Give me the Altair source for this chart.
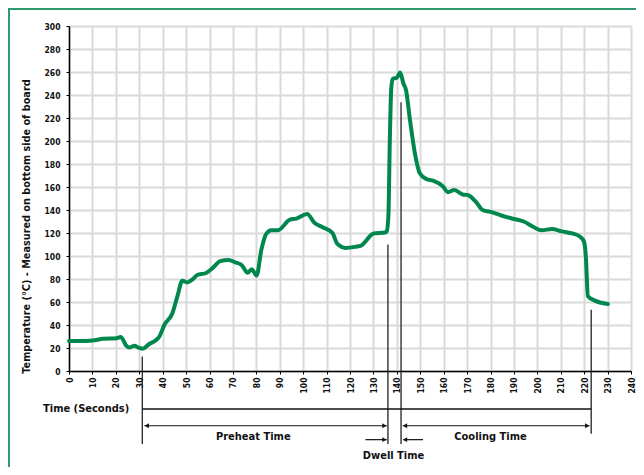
import altair as alt
import pandas as pd

# ---- data ----
time_s = [0, 5, 10, 14.6, 20.3, 22.1, 24.5, 25.9, 28, 29.4, 31.3, 34.3, 37.2, 38.6,
          40.7, 44.2, 46.3, 48.4, 50.5, 52.6, 54.8, 58.3, 61.1, 64.6, 68.1, 71,
          73.8, 76.3, 78, 80.1, 82.2, 84.3, 86.4, 89.3, 94.2, 97, 101.7, 104.8,
          108.3, 112.5, 114.6, 118.1, 123.1, 124.5, 130.1, 135, 135.7, 136.4,
          137.0, 137.6, 138.2, 140, 141.4, 142.8, 143.9, 145.6, 147.7, 149.8,
          152.6, 155.5, 159.7, 161.8, 164.6, 168.1, 170.3, 173.8, 176.6, 180.8,
          185, 190, 194.2, 198.4, 201.9, 206.2, 210.4, 215.3, 218.1, 219.9,
          220.7, 221.6, 224.4, 230.1]
temp_c = [26, 26, 26.5, 28, 28.5, 29.5, 22, 20.5, 22, 20.5, 19.4, 23.5, 27, 30,
          40, 50.5, 65, 78.5, 77, 79.5, 83.5, 85, 89, 95.5, 96.5, 94.5,
          92, 85.5, 88.5, 83, 106, 119.5, 122.5, 122.5, 131.5, 132.5, 136.5, 129,
          125, 120, 110.5, 107, 108.3, 108.8, 119.5, 120.5, 121.5, 135,
          200, 245, 254, 255, 259.5, 250, 244.5, 218.5, 189.5, 172,
          167, 165.5, 160.5, 155.5, 157.5, 153.5, 153, 147, 140, 138,
          135, 132.2, 130, 125.2, 122.3, 123.5, 121.4, 119.4, 117, 112.7,
          100, 65, 61.4, 58.2]

x_ticks = list(range(0, 241, 10))
y_ticks = list(range(0, 301, 20))

# annotation markers (in axis units)
marker_t = [31.3, 136.2, 141.8, 223]
marker_top = [12.7, 110, 233.6, 53.3]
marker_bottom = [-63.5, -63.5, -63.5, -54.5]

span_start = [31.3]
span_end = [223]
span_level = [-33]

arrow_from = [32.2, 142.5, 126.6, 142.8]
arrow_to = [135.7, 222.3, 135.7, 151.2]
arrow_level = [-47.6, -47.6, -59.7, -59.7]

head_t = [33.2, 134.7, 143.5, 221.3, 134.7, 143.5]
head_level = [-47.6, -47.6, -47.6, -47.6, -59.7, -59.7]
head_shape = ["triangle-left", "triangle-right", "triangle-left", "triangle-right",
              "triangle-right", "triangle-left"]

label_text = ["Time (Seconds)", "Preheat Time", "Cooling Time", "Dwell Time"]
label_t = [7.3, 78.7, 180, 138.6]
label_level = [-33, -57.4, -57.4, -74.3]

FONT = "DejaVu Sans Condensed, Liberation Sans Narrow, Liberation Sans, sans-serif"
GREEN = "#00874e"

curve = pd.DataFrame({"t": time_s, "T": temp_c})
markers = pd.DataFrame({"t": marker_t, "top": marker_top, "bottom": marker_bottom})
span = pd.DataFrame({"t": span_start, "b": span_end, "T": span_level})
arrows = pd.DataFrame({"t": arrow_from, "b": arrow_to, "T": arrow_level})
heads = pd.DataFrame({"t": head_t, "T": head_level, "shape": head_shape})
labels = pd.DataFrame({"text": label_text, "t": label_t, "T": label_level})

x_scale = alt.Scale(domain=[0, 240], nice=False)
y_scale = alt.Scale(domain=[0, 300], nice=False)

x_axis = alt.Axis(values=x_ticks, title=None, labelAngle=270, labelFont=FONT,
                  labelFontSize=8.5, labelFontWeight="bold", labelColor="#111",
                  labelOverlap=False, labelBound=False, labelFlush=False,
                  labelPadding=3, tickSize=3, tickColor="#000", domainColor="#000",
                  domainWidth=1.5, grid=True, gridColor="#dadada", gridWidth=2)
y_axis = alt.Axis(values=y_ticks, title="Temperature (°C) - Measured on bottom side of board",
                  titleFont=FONT, titleFontSize=10.8, titleFontWeight="bold", titleColor="#111",
                  titleAngle=270, titleX=-43, titleY=200, titleAlign="center",
                  titleBaseline="middle", labelOverlap=False, labelFlush=False,
                  labelFont=FONT, labelFontSize=8.5, labelFontWeight="bold", labelColor="#111",
                  labelPadding=6, tickSize=3, tickColor="#000", domainColor="#000",
                  domainWidth=1.5, grid=True, gridColor="#dadada", gridWidth=2)


def X(field):
    return alt.X(field, scale=x_scale, axis=x_axis)


def Y(field):
    return alt.Y(field, scale=y_scale, axis=y_axis)


line = alt.Chart(curve).mark_line(color=GREEN, strokeWidth=4, interpolate="monotone",
                                  strokeJoin="round", strokeCap="round").encode(
    x=X("t:Q"), y=Y("T:Q"))

vrules = alt.Chart(markers).mark_rule(color="#222", strokeWidth=1.3).encode(
    x=X("t:Q"), y=Y("top:Q"), y2="bottom:Q")

hrule = alt.Chart(span).mark_rule(color="#111", strokeWidth=1.5).encode(
    x=X("t:Q"), x2="b:Q", y=Y("T:Q"))

arrow_lines = alt.Chart(arrows).mark_rule(color="#111", strokeWidth=1.2).encode(
    x=X("t:Q"), x2="b:Q", y=Y("T:Q"))

arrow_heads = alt.Chart(heads).mark_point(filled=True, color="#111", size=24, opacity=1).encode(
    x=X("t:Q"), y=Y("T:Q"), shape=alt.Shape("shape:N", scale=None, legend=None))

texts = alt.Chart(labels).mark_text(font=FONT, fontSize=11, fontWeight="bold",
                                    color="#111", align="center", baseline="middle").encode(
    x=X("t:Q"), y=Y("T:Q"), text="text:N")

border = alt.Chart(pd.DataFrame({"k": [0]})).mark_rect(
    fillOpacity=0, stroke="#2e9b6e", strokeWidth=2).encode(
    x=alt.value(-60), x2=alt.value(700), y=alt.value(-17), y2=alt.value(600))

chart = alt.layer(line, vrules, hrule, arrow_lines, arrow_heads, texts, border).properties(
    width=562, height=345,
    padding={"left": 61, "top": 18, "right": 5, "bottom": 96},
    autosize=alt.AutoSizeParams(type="none"),
    background="white",
).configure_view(strokeWidth=0)

chart.save("out.html", embed_options={"renderer": "svg", "actions": False})
